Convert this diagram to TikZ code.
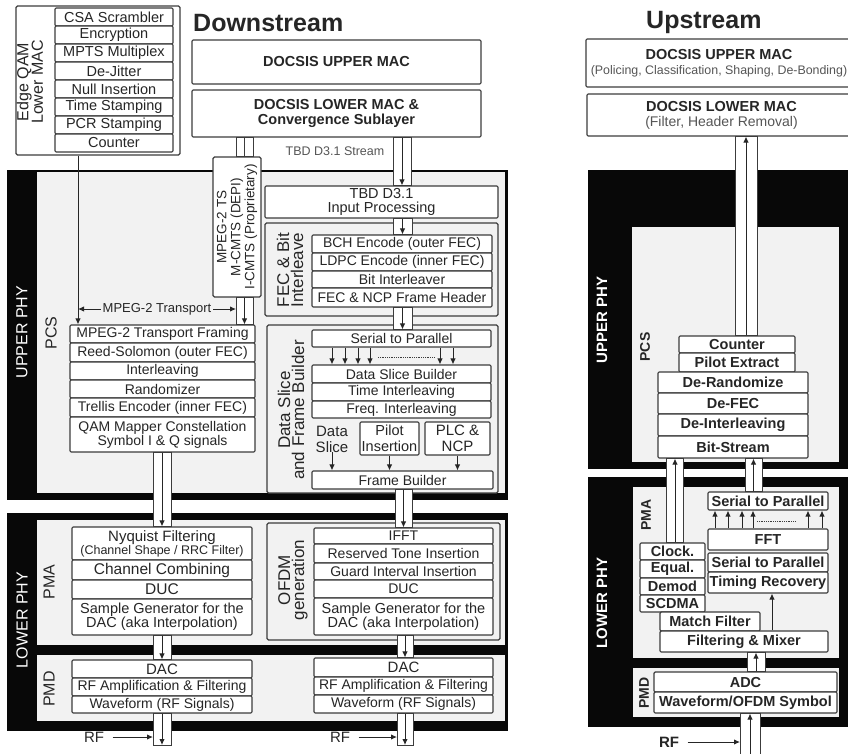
\documentclass[tikz,border=0pt]{standalone}
\usepackage{fontspec}
\setmainfont{Liberation Sans}
\usetikzlibrary{fit,arrows.meta,calc}

\definecolor{lc}{HTML}{3C3C3C}
\definecolor{tc}{HTML}{262626}
\definecolor{bgc}{HTML}{F2F2F2}
\definecolor{blk}{HTML}{080808}
\definecolor{subc}{HTML}{555555}

\newcommand\fsz[2]{\fontsize{#1}{#2}\selectfont}
\tikzset{
 bx/.style={draw=lc, line width=1.1pt, fill=white, rounded corners=1.2pt, inner sep=0pt, align=center, text=tc, font=\fsz{14}{14}},
 ubx/.style={bx, font=\bfseries\fsz{14.5}{15}},
 frame/.style={draw=lc, line width=1.1pt, rounded corners=1.5pt, inner sep=0pt},
 lbl/.style={rotate=90, align=center, text=tc, inner sep=0pt},
 pipebox/.style={draw=lc, line width=1pt, fill=white},
 pipeline/.style={draw=lc, line width=1pt},
 pipearr/.style={draw=tc, line width=1pt, -{Latex[length=6pt,width=5.5pt]}},
 conn/.style={draw=tc, line width=1pt, -{Latex[length=6pt,width=5.5pt]}},
}
\newcommand\bx[7][]{%
 \pgfmathsetmacro\bxw{#5-#3}\pgfmathsetmacro\bxh{#6-#4}%
 \pgfmathsetmacro\bxx{(#3+#5)/2}\pgfmathsetmacro\bxy{(#4+#6)/2}%
 \node[bx,minimum width=\bxw pt,minimum height=\bxh pt,#1] (#2) at (\bxx,\bxy) {#7};}
\newcommand\pipe[5]{\draw[pipebox] (#1,0 |- #4) rectangle (#3,0 |- #5); \draw[pipearr] (#2,0 |- #4) -- (#2,0 |- #5);}

\begin{document}
\begin{tikzpicture}[x=1pt,y=-1pt]
\useasboundingbox (0,0) rectangle (848,753);
\clip (0,0) rectangle (848,753);
\fill[white] (0,0) rectangle (848,753);

% ================= DOWNSTREAM =================
\fill[blk] (7,170) rectangle (508,500);
\fill[bgc] (37,172) rectangle (505,493);
\fill[blk] (7,513) rectangle (508,731);
\fill[bgc] (37,520) rectangle (505,645);
\fill[bgc] (37,655) rectangle (505,721);

\node[anchor=base west, font=\bfseries\fsz{25}{28}, text=tc, inner sep=0] (dstitle) at (193,31) {Downstream};

% Edge QAM lower MAC
\node[frame, fit={(16,6) (180,155)}] (edge) {};
\node[lbl, font=\fsz{16}{14.5}] (edgelbl) at (30,82) {Edge QAM\\Lower MAC};
\bx[font=\fsz{14.5}{15}]{csa}{55}{8}{173}{26}{CSA Scrambler}
\bx[font=\fsz{14.5}{15}]{enc}{55}{26}{173}{44}{Encryption}
\bx[font=\fsz{14.5}{15}]{mpts}{55}{44}{173}{62}{MPTS Multiplex}
\bx[font=\fsz{14.5}{15}]{dej}{55}{62}{173}{80}{De-Jitter}
\bx[font=\fsz{14.5}{15}]{nul}{55}{80}{173}{98}{Null Insertion}
\bx[font=\fsz{14.5}{15}]{tst}{55}{98}{173}{116}{Time Stamping}
\bx[font=\fsz{14.5}{15}]{pcr}{55}{116}{173}{134}{PCR Stamping}
\bx[font=\fsz{14.5}{15}]{cnt}{55}{134}{173}{152}{Counter}

% DOCSIS MAC
\bx[ubx]{umac}{192}{40}{481}{84}{DOCSIS UPPER MAC}
\bx[ubx]{lmac}{192}{90}{481}{137}{DOCSIS LOWER MAC \&\\Convergence Sublayer}
\node[font=\fsz{12.5}{13}, text=subc] (tbdstream) at (335,151) {TBD D3.1 Stream};

% labels
\node[lbl, text=white, font=\fsz{16}{16}] (uphy) at (22,332) {UPPER PHY};
\node[lbl, font=\fsz{16}{16}] (pcs) at (51,333) {PCS};
\node[lbl, text=white, font=\fsz{16}{16}] (lphy) at (22,620) {LOWER PHY};
\node[lbl, font=\fsz{16}{16}] (pma) at (49,582) {PMA};
\node[lbl, font=\fsz{16}{16}] (pmd) at (49,689) {PMD};

% PCS left stack
\bx{mpf}{70}{325}{255}{343}{MPEG-2 Transport Framing}
\bx{rs}{70}{343}{255}{362}{Reed-Solomon (outer FEC)}
\bx{intl}{70}{362}{255}{380}{Interleaving}
\bx{rnd}{70}{380}{255}{398}{Randomizer}
\bx{trl}{70}{398}{255}{417}{Trellis Encoder (inner FEC)}
\bx{qam}{70}{417}{255}{452}{QAM Mapper Constellation\\Symbol I \& Q signals}

% MPEG-2 TS box
\node[frame, fill=white, fit={(213,157) (261,297)}] (mts) {};
\node[lbl, font=\fsz{13.5}{14}] (mtslbl) at (mts.center) {MPEG-2 TS\\M-CMTS (DEPI)\\I-CMTS (Proprietary)};

% PMA left stack
\bx[font=\fsz{15}{12}]{nyq}{72}{527}{252}{560}{Nyquist Filtering\\{\fsz{12.5}{12}(Channel Shape / RRC Filter)}}
\bx[font=\fsz{15.5}{16}]{chc}{72}{560}{252}{580}{Channel Combining}
\bx[font=\fsz{15.5}{16}]{duc}{72}{580}{252}{599}{DUC}
\bx[font=\fsz{14.5}{14}]{sgen}{72}{599}{252}{635}{Sample Generator for the\\DAC (aka Interpolation)}
% PMD left stack
\bx[font=\fsz{15}{15}]{dac}{72}{660}{252}{678}{DAC}
\bx{rfa}{72}{678}{252}{696}{RF Amplification \& Filtering}
\bx{wav}{72}{696}{252}{713}{Waveform (RF Signals)}
\coordinate (rfo1) at (162,745);
\node[font=\fsz{15}{15}, text=tc] (rf1) at (94,737) {RF};

% right column upper PHY
\bx[font=\fsz{14.5}{14}]{tbd}{265}{186}{498}{218}{TBD D3.1\\Input Processing}
\node[frame, fill=bgc, fit={(265,223) (498,316)}] (fecf) {};
\node[lbl, font=\fsz{17}{14}] (feclbl) at (290,270) {FEC \& Bit\\Interleave};
\bx{bch}{312}{235}{492}{253}{BCH Encode (outer FEC)}
\bx{ldpc}{312}{253}{492}{271}{LDPC Encode (inner FEC)}
\bx{bil}{312}{271}{492}{288}{Bit Interleaver}
\bx{fnh}{312}{288}{492}{307}{FEC \& NCP Frame Header}

\node[frame, fill=bgc, fit={(267,325) (498,493)}] (dsf) {};
\node[lbl, font=\fsz{17}{14}] (dsflbl) at (291,410) {Data Slice\\and Frame Builder};
\bx{s2p}{312}{330}{491}{347}{Serial to Parallel}
\bx{dsb}{312}{365}{491}{383}{Data Slice Builder}
\bx{tin}{312}{383}{491}{401}{Time Interleaving}
\bx{fin}{312}{401}{491}{418}{Freq. Interleaving}
\node[align=center, font=\fsz{15}{16}, text=tc, inner sep=0] (dsl) at (332,439) {Data\\Slice};
\bx[font=\fsz{14.5}{16}]{pil}{360}{422}{419}{455}{Pilot\\Insertion}
\bx[font=\fsz{15}{16}]{plc}{425}{422}{490}{455}{PLC \&\\NCP}
\bx{fb}{312}{471}{493}{489}{Frame Builder}

% OFDM
\node[frame, fill=bgc, fit={(267,523) (500,640)}] (ofdm) {};
\node[lbl, font=\fsz{17}{14}] (ofdmlbl) at (293,580) {OFDM\\generation};
\bx{ifft}{314}{528}{493}{544}{IFFT}
\bx{rti}{314}{544}{493}{563}{Reserved Tone Insertion}
\bx{gii}{314}{563}{493}{580}{Guard Interval Insertion}
\bx{duc2}{314}{580}{493}{598}{DUC}
\bx[font=\fsz{14.5}{14}]{sg2}{314}{598}{493}{635}{Sample Generator for the\\DAC (aka Interpolation)}
\bx[font=\fsz{15}{15}]{dac2}{314}{658}{493}{677}{DAC}
\bx{rfa2}{314}{677}{493}{695}{RF Amplification \& Filtering}
\bx{wav2}{314}{695}{493}{713}{Waveform (RF Signals)}
\coordinate (rfo2) at (405,745);
\node[font=\fsz{15}{15}, text=tc] (rf2) at (340,737) {RF};

% downstream connectors
\draw[pipebox] (236,0 |- lmac.south) rectangle (253,0 |- mts.north);
\draw[pipeline] (244.5,0 |- lmac.south) -- (244.5,0 |- mts.north);
\pipe{236}{244.5}{253}{mts.south}{mpf.north}
\draw[conn] (78,0 |- edge.south) -- (78,0 |- mpf.north);
\coordinate (mptl) at (78,309);
\coordinate (mptr) at (236,309);
\draw[tc, line width=1pt, {Latex[length=6pt,width=5.5pt]}-{Latex[length=6pt,width=5.5pt]}] (mptl) -- (mptr) node[midway, fill=bgc, inner sep=1.5pt, font=\fsz{13}{13}, text=tc] (mpt) {MPEG-2 Transport};
\pipe{153}{162}{171}{qam.south}{nyq.north}
\pipe{153}{162}{171}{sgen.south}{dac.north}
\pipe{153}{162}{171}{wav.south}{rfo1}
\draw[conn, shorten <=5pt] (rf1.east) -- (153,0 |- rf1.east);

\pipe{393}{402}{411}{lmac.south}{tbd.north}
\pipe{393}{402.5}{412}{tbd.south}{bch.north}
\pipe{393}{402.5}{412}{fnh.south}{s2p.north}
\foreach \xx in {332,345,358,370,440,453} \draw[conn] (\xx,0 |- s2p.south) -- (\xx,0 |- dsb.north);
\draw[lc, densely dotted, line width=0.8pt] (378,357) -- (435,357);
\draw[conn] (dsl.south) -- (dsl.south |- fb.north);
\draw[conn] (pil.south) -- (pil.south |- fb.north);
\draw[conn] (plc.south) -- (plc.south |- fb.north);
\pipe{395}{403.5}{412}{fb.south}{ifft.north}
\pipe{397}{405}{413}{sg2.south}{dac2.north}
\pipe{397}{405}{413}{wav2.south}{rfo2}
\draw[conn, shorten <=5pt] (rf2.east) -- (397,0 |- rf2.east);

% ================= UPSTREAM =================
\fill[blk] (588,170) rectangle (860,469);
\fill[bgc] (632,227) rectangle (839,462);
\fill[blk] (588,477) rectangle (860,727);
\fill[bgc] (633,487) rectangle (839,658);
\fill[bgc] (633,668) rectangle (839,717);

\node[anchor=base west, font=\bfseries\fsz{25}{28}, text=tc, inner sep=0] (ustitle) at (646,28) {Upstream};
\bx[ubx]{umac2}{586}{39}{852}{87}{DOCSIS UPPER MAC\\{\mdseries\fsz{12.4}{15}\textcolor{subc}{(Policing, Classification, Shaping, De-Bonding)}}}
\bx[ubx]{lmac2}{587}{94}{856}{136}{DOCSIS LOWER MAC\\{\mdseries\fsz{14}{15}\textcolor{subc}{(Filter, Header Removal)}}}

\node[lbl, text=white, font=\bfseries\fsz{15}{15}] (uphy2) at (602,320) {UPPER PHY};
\node[lbl, font=\bfseries\fsz{14}{14}] (pcs2) at (645,347) {PCS};
\bx[ubx]{cnt2}{679}{336}{795}{353}{Counter}
\bx[ubx]{pex}{679}{353}{795}{372}{Pilot Extract}
\bx[ubx]{drn}{658}{372}{808}{393}{De-Randomize}
\bx[ubx]{dfec}{658}{393}{808}{414}{De-FEC}
\bx[ubx]{dint}{658}{414}{808}{436}{De-Interleaving}
\bx[ubx]{bst}{658}{436}{808}{458}{Bit-Stream}

\node[lbl, text=white, font=\bfseries\fsz{15}{15}] (lphy2) at (602,603) {LOWER PHY};
\node[lbl, font=\bfseries\fsz{14}{14}] (pma2) at (646,515) {PMA};
\node[lbl, font=\bfseries\fsz{14}{14}] (pmd2) at (644,693) {PMD};

\bx[ubx]{s2pu}{708}{492}{828}{510}{Serial to Parallel}
\bx[ubx]{fft}{708}{529}{828}{550}{FFT}
\bx[ubx]{s2pv}{708}{553}{828}{572}{Serial to Parallel}
\bx[ubx]{trc}{708}{572}{828}{593}{Timing Recovery}
\bx[ubx]{clk}{640}{543}{705}{560}{Clock.}
\bx[ubx]{equ}{640}{560}{705}{578}{Equal.}
\bx[ubx]{dmd}{640}{578}{705}{595}{Demod}
\bx[ubx]{scd}{640}{595}{705}{612}{SCDMA}
\bx[ubx]{mfl}{660}{612}{760}{631}{Match Filter}
\bx[ubx]{fmx}{660}{631}{828}{652}{Filtering \& Mixer}
\bx[ubx]{adc}{654}{672}{837}{692}{ADC}
\bx[ubx]{wof}{654}{692}{837}{713}{Waveform/OFDM Symbol}
\coordinate (rfi) at (750,760);
\node[font=\bfseries\fsz{15}{15}, text=tc] (rf3) at (669,742) {RF};

\pipe{735}{746}{757}{cnt2.north}{lmac2.south}
\pipe{666}{675}{683}{clk.north}{bst.south}
\pipe{745}{753.5}{762}{s2pu.north}{bst.south}
\pipe{747}{756}{765}{adc.north}{fmx.south}
\pipe{740}{750}{760}{rfi}{wof.south}
\draw[conn] (772,0 |- fmx.north) -- (772,0 |- trc.south);
\foreach \xx in {715,728,742,753,808,822} \draw[conn] (\xx,0 |- fft.north) -- (\xx,0 |- s2pu.south);
\draw[lc, densely dotted, line width=0.8pt] (757,521) -- (795,521);
\draw[conn, shorten <=5pt] (rf3.east) -- (740,0 |- rf3.east);
\end{tikzpicture}
\end{document}
